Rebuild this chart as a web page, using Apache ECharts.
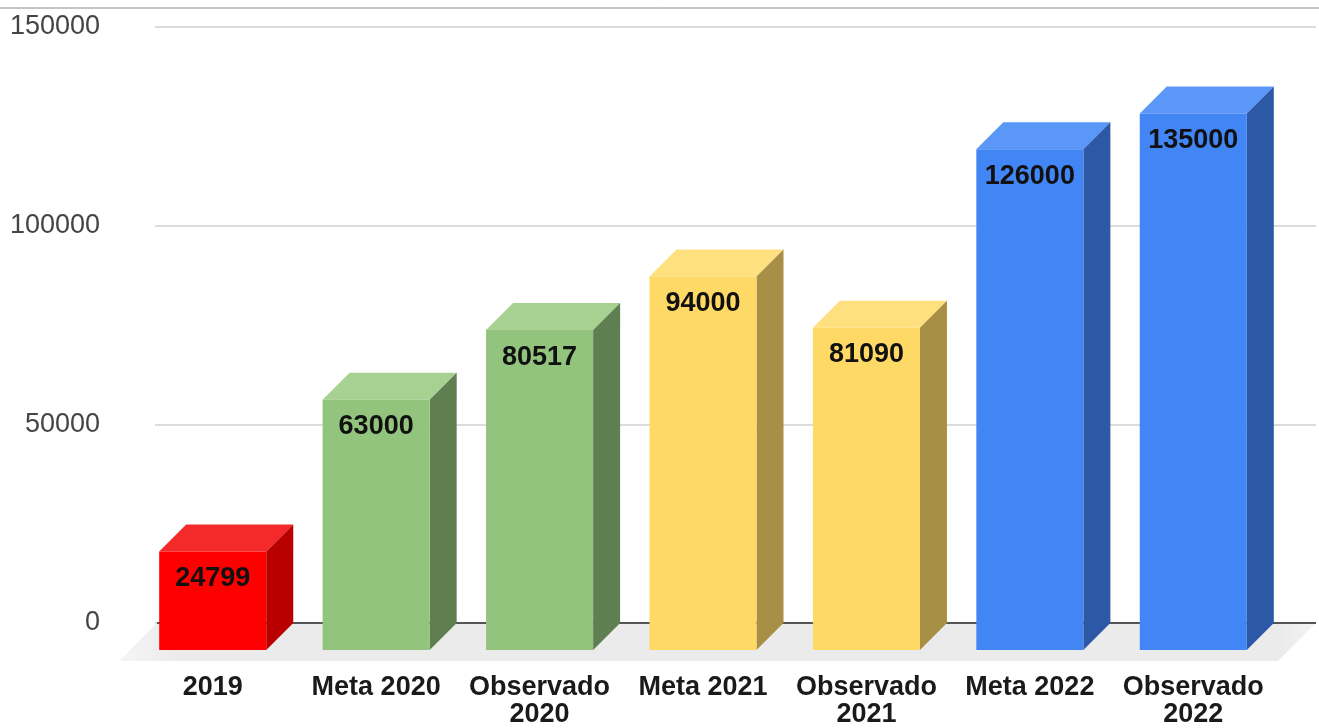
<!DOCTYPE html>
<html>
<head>
<meta charset="utf-8">
<script src="https://cdn.jsdelivr.net/npm/echarts@6/dist/echarts.min.js"></script>
<style>
html,body{margin:0;padding:0;background:#fff;}
#chart{width:1319px;height:728px;}
</style>
</head>
<body>
<div id="chart"></div>
<script>
const categories = ['2019', 'Meta 2020', 'Observado 2020', 'Meta 2021', 'Observado 2021', 'Meta 2022', 'Observado 2022'];
const values = [24799, 63000, 80517, 94000, 81090, 126000, 135000];
const yTicks = [0, 50000, 100000, 150000];
const frontColors = ['#ff0000', '#93c47d', '#93c47d', '#ffd966', '#ffd966', '#4285f4', '#4285f4'];
const topColors = ['#f42a2a', '#a6d190', '#a6d190', '#ffe07e', '#ffe07e', '#5b97f6', '#5b97f6'];
const sideColors = ['#b80000', '#5f7f50', '#5f7f50', '#a88f46', '#a88f46', '#2d58a5', '#2d58a5'];

const DEPTH = 27;
const FLOOR = 38;
const FONT = 'Arial, "Liberation Sans", sans-serif';

const chart = echarts.init(document.getElementById('chart'), null, {renderer: 'canvas'});

const yBase = {type: 'value', min: yTicks[0], max: yTicks[yTicks.length - 1], interval: 50000};

const option = {
  animation: false,
  backgroundColor: '#fff',
  grid: [
    {left: 155, right: 3, top: 27, bottom: 105},
    {left: 158, right: 17, top: 27, bottom: 105},
    {left: 131, right: 44, top: 27, bottom: 105}
  ],
  xAxis: [
    {gridIndex: 0, type: 'value', min: 0, max: 1, show: false},
    {gridIndex: 1, type: 'category', data: categories, show: false},
    {gridIndex: 2, type: 'category', data: categories,
      axisLine: {show: false}, axisTick: {show: false},
      axisLabel: {
        interval: 0, margin: 62, fontSize: 27, lineHeight: 27, fontWeight: 'bold',
        color: '#1a1a1a', fontFamily: FONT,
        formatter: v => v.replace('Observado ', 'Observado\n')
      }}
  ],
  yAxis: [
    Object.assign({gridIndex: 0,
      axisLine: {show: false}, axisTick: {show: false},
      axisLabel: {margin: 55, fontSize: 27, color: '#444', fontFamily: FONT, formatter: v => String(v)},
      splitLine: {lineStyle: {color: '#dcdcdc', width: 2}}}, yBase),
    Object.assign({gridIndex: 1, show: false, splitLine: {show: false}}, yBase),
    Object.assign({gridIndex: 2, show: false, splitLine: {show: false}}, yBase)
  ],
  graphic: [
    {type: 'line', shape: {x1: 0, y1: 8, x2: 1319, y2: 8}, style: {stroke: '#8a8a8a', lineWidth: 1}, z: 100}
  ],
  series: [
    {
      type: 'custom',
      xAxisIndex: 0, yAxisIndex: 0,
      data: [[0, 0]],
      z: 1,
      renderItem: function (params, api) {
        const cs = params.coordSys;
        const y0 = api.coord([0, 0])[1];
        const xl = cs.x + 2, xr = cs.x + cs.width;
        return {
          type: 'group',
          children: [
            {type: 'polygon', shape: {points: [[xl, y0], [xr, y0], [xr - FLOOR, y0 + FLOOR], [xl - FLOOR, y0 + FLOOR]]},
              style: {fill: new echarts.graphic.LinearGradient(0, 0, 1, 0, [
                {offset: 0, color: '#f6f6f6'}, {offset: 0.05, color: '#ebebeb'}, {offset: 0.97, color: '#ebebeb'}, {offset: 1, color: '#f4f4f4'}])}},
            {type: 'line', shape: {x1: xl, y1: y0, x2: xr, y2: y0}, style: {stroke: '#555', lineWidth: 2}}
          ]
        };
      }
    },
    {
      type: 'custom',
      xAxisIndex: 1, yAxisIndex: 1,
      data: values.map((v, i) => [i, v]),
      z: 5,
      renderItem: function (params, api) {
        const i = api.value(0);
        const v = api.value(1);
        const base = api.coord([i, 0]);
        const top = api.coord([i, v]);
        const half = api.size([1, 0])[0] * 0.655 / 2;
        const bx0 = base[0] - half, bx1 = base[0] + half;
        const bt = top[1], bb = base[1];
        const fx0 = bx0 - DEPTH, fx1 = bx1 - DEPTH;
        const ft = bt + DEPTH, fb = bb + DEPTH;
        const idx = params.dataIndex;
        return {
          type: 'group',
          children: [
            {type: 'polygon', shape: {points: [[fx0, ft], [fx1, ft], [bx1, bt], [bx0, bt]]}, style: {fill: topColors[idx]}},
            {type: 'polygon', shape: {points: [[fx1, ft], [bx1, bt], [bx1, bb], [fx1, fb]]}, style: {fill: sideColors[idx]}},
            {type: 'rect', shape: {x: fx0, y: ft, width: fx1 - fx0, height: fb - ft}, style: {fill: frontColors[idx]}},
            {type: 'text', x: (fx0 + fx1) / 2, y: ft + 27,
              style: {text: String(v), fill: '#111', font: 'bold 27px ' + FONT, textAlign: 'center', textVerticalAlign: 'middle'}}
          ]
        };
      }
    }
  ]
};
chart.setOption(option);
</script>
</body>
</html>
